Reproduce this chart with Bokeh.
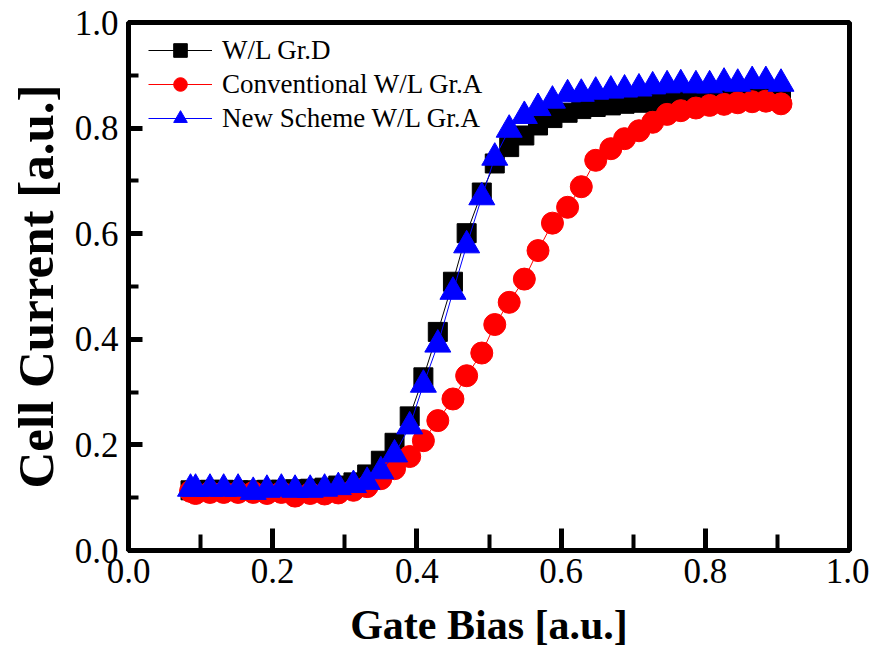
from bokeh.plotting import figure
from bokeh.models import Legend, LegendItem, FixedTicker, PrintfTickFormatter, ColumnDataSource
from bokeh.embed import file_html
from bokeh.resources import INLINE

gate_bias = [0.086, 0.093, 0.113, 0.132, 0.152, 0.173, 0.192, 0.212, 0.231, 0.252,
             0.272, 0.291, 0.312, 0.331, 0.350, 0.369, 0.390, 0.409, 0.429, 0.450,
             0.469, 0.490, 0.508, 0.528, 0.549, 0.568, 0.588, 0.609, 0.628, 0.648,
             0.669, 0.688, 0.708, 0.727, 0.747, 0.766, 0.787, 0.806, 0.826, 0.845,
             0.865, 0.884, 0.905]

wl_gr_d = [0.114, 0.114, 0.115, 0.115, 0.114, 0.114, 0.115, 0.115, 0.116, 0.117,
           0.119, 0.123, 0.129, 0.144, 0.170, 0.204, 0.254, 0.328, 0.414, 0.509,
           0.601, 0.678, 0.733, 0.764, 0.786, 0.805, 0.819, 0.829, 0.836, 0.840,
           0.843, 0.846, 0.848, 0.850, 0.851, 0.853, 0.854, 0.855, 0.857, 0.858,
           0.859, 0.860, 0.861]

conventional_wl_gr_a = [0.112, 0.108, 0.110, 0.110, 0.110, 0.110, 0.108, 0.110, 0.103, 0.108,
                        0.107, 0.109, 0.114, 0.121, 0.136, 0.155, 0.178, 0.208, 0.246, 0.287,
                        0.331, 0.374, 0.428, 0.470, 0.514, 0.568, 0.620, 0.650, 0.689, 0.739,
                        0.761, 0.780, 0.795, 0.811, 0.826, 0.833, 0.838, 0.843, 0.845, 0.848,
                        0.850, 0.851, 0.846]

new_scheme_wl_gr_a = [0.117, 0.117, 0.117, 0.117, 0.117, 0.111, 0.115, 0.117, 0.115, 0.115,
                      0.117, 0.120, 0.124, 0.130, 0.150, 0.182, 0.235, 0.314, 0.390, 0.490,
                      0.578, 0.669, 0.744, 0.797, 0.823, 0.838, 0.852, 0.864, 0.865, 0.869,
                      0.871, 0.873, 0.875, 0.879, 0.881, 0.883, 0.881, 0.881, 0.886, 0.884,
                      0.889, 0.889, 0.884]

major_ticks = [0.0, 0.2, 0.4, 0.6, 0.8, 1.0]
minor_ticks = [0.1, 0.3, 0.5, 0.7, 0.9]

series_labels = ["W/L Gr.D", "Conventional W/L Gr.A", "New Scheme W/L Gr.A"]
x_title = "Gate Bias [a.u.]"
y_title = "Cell Current [a.u.]"

FONT = "Liberation Serif"

p = figure(width=869, height=664, x_range=(0, 1), y_range=(0, 1),
           output_backend="svg", toolbar_location=None,
           min_border_left=128, min_border_right=20, min_border_top=22, min_border_bottom=114)

p.xgrid.visible = False
p.ygrid.visible = False
p.outline_line_color = "black"
p.outline_line_width = 5
p.background_fill_color = "white"
p.border_fill_color = "white"

src = ColumnDataSource(dict(x=gate_bias, d=wl_gr_d, c=conventional_wl_gr_a, n=new_scheme_wl_gr_a))

l1 = p.line("x", "d", source=src, line_color="black", line_width=1)
s1 = p.scatter("x", "d", source=src, marker="square", size=19, fill_color="black", line_color="black")
l2 = p.line("x", "c", source=src, line_color="red", line_width=1)
s2 = p.scatter("x", "c", source=src, marker="circle", size=22, fill_color="red", line_color="red")
l3 = p.line("x", "n", source=src, line_color="blue", line_width=1)
s3 = p.scatter("x", "n", source=src, marker="triangle", size=26, fill_color="blue", line_color="blue")

for ax in (p.xaxis[0], p.yaxis[0]):
    ax.ticker = FixedTicker(ticks=major_ticks, minor_ticks=minor_ticks)
    ax.formatter = PrintfTickFormatter(format="%.1f")
    ax.axis_line_width = 5
    ax.axis_line_color = "black"
    ax.major_tick_line_width = 5
    ax.major_tick_line_color = "black"
    ax.minor_tick_line_width = 4
    ax.minor_tick_line_color = "black"
    ax.major_tick_out = 0
    ax.minor_tick_out = 0
    ax.major_label_text_font = FONT
    ax.major_label_text_font_size = "35px"
    ax.major_label_text_color = "black"
    ax.axis_label_text_font = FONT
    ax.axis_label_text_font_style = "bold"
    ax.axis_label_text_color = "black"

p.xaxis[0].major_tick_in = 22
p.xaxis[0].minor_tick_in = 16
p.yaxis[0].major_tick_in = 14
p.yaxis[0].minor_tick_in = 10
p.xaxis[0].axis_label = x_title
p.yaxis[0].axis_label = y_title
p.xaxis[0].axis_label_text_font_size = "42px"
p.yaxis[0].axis_label_text_font_size = "51px"
p.xaxis[0].major_label_standoff = 8
p.yaxis[0].major_label_standoff = 10
p.xaxis[0].axis_label_standoff = 16
p.yaxis[0].axis_label_standoff = 8

items = [LegendItem(label=series_labels[0], renderers=[l1, s1]),
         LegendItem(label=series_labels[1], renderers=[l2, s2]),
         LegendItem(label=series_labels[2], renderers=[l3, s3])]
legend = Legend(items=items, location=(20, 415))
legend.padding = 0
legend.margin = 0
legend.spacing = 0
legend.glyph_width = 64
legend.glyph_height = 34
legend.label_height = 34
legend.label_standoff = 10
legend.label_text_font = FONT
legend.label_text_font_size = "27px"
legend.label_text_color = "black"
legend.border_line_color = None
legend.background_fill_alpha = 0
p.add_layout(legend)

open("out.html", "w").write(file_html(p, INLINE))
